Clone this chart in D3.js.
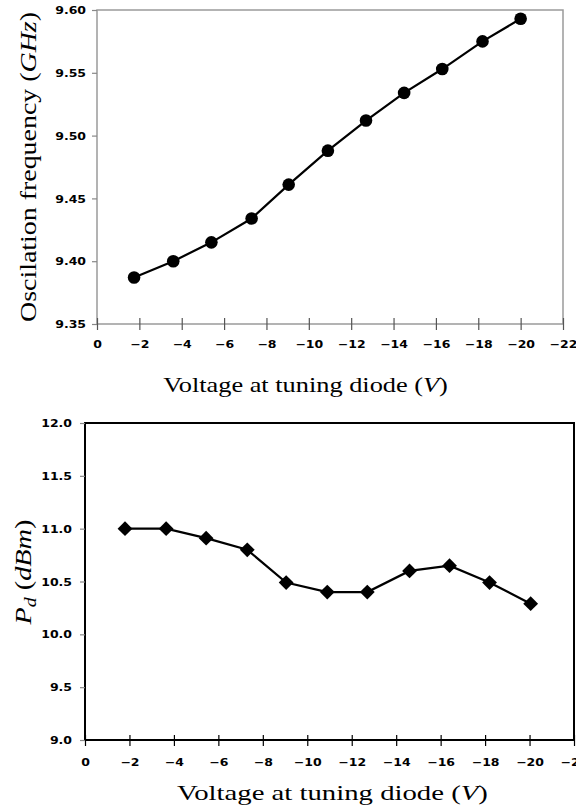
<!DOCTYPE html>
<html>
<head>
<meta charset="utf-8">
<script src="https://cdn.jsdelivr.net/npm/d3@7"></script>
<style>
  html, body { margin: 0; padding: 0; background: #fff; }
  svg { display: block; }
</style>
</head>
<body>
<script>
// ---- Data ----
const voltageTop = [-1.75, -3.6, -5.4, -7.3, -9.05, -10.9, -12.7, -14.5, -16.3, -18.2, -20.0];
const frequencyGHz = [9.387, 9.400, 9.415, 9.434, 9.461, 9.488, 9.512, 9.534, 9.553, 9.575, 9.593];
const voltageBottom = [-1.8, -3.65, -5.45, -7.3, -9.05, -10.9, -12.7, -14.6, -16.4, -18.2, -20.05];
const powerDBm = [11.0, 11.0, 10.91, 10.8, 10.49, 10.4, 10.4, 10.6, 10.65, 10.49, 10.29];
const xTicks = [0, -2, -4, -6, -8, -10, -12, -14, -16, -18, -20, -22];
const yTicksTop = [9.35, 9.40, 9.45, 9.50, 9.55, 9.60];
const yTicksBottom = [9.0, 9.5, 10.0, 10.5, 11.0, 11.5, 12.0];

const W = 576, H = 810;
const svg = d3.select("body").append("svg").attr("width", W).attr("height", H);

const fmtMinus = v => (v < 0 ? "\u2212" + Math.abs(v) : String(v));
const tickFont = "'DejaVu Sans', Verdana, sans-serif";
const serif = "'Liberation Serif', 'Times New Roman', serif";
const SX = 1.25; // horizontal stretch of tick labels

function styleTickText(sel, xOff, yOff, anchor) {
  sel.selectAll("text")
    .attr("font-family", tickFont)
    .attr("font-weight", "bold")
    .attr("font-size", 10)
    .attr("fill", "#000")
    .attr("text-anchor", anchor)
    .attr("x", xOff / SX)
    .attr("y", yOff)
    .attr("dy", anchor === "end" ? "0.36em" : "0.71em")
    .attr("transform", `scale(${SX},1)`);
}

// title text: centred at (cx, cy), rotated by rot, stretched to targetLen
function title(parent, cx, cy, rot, size, targetLen, build) {
  const t = parent.append("text")
    .attr("text-anchor", "middle")
    .attr("font-family", serif)
    .attr("font-weight", "normal")
    .attr("font-size", size)
    .attr("fill", "#000");
  build(t);
  const natural = t.node().getComputedTextLength();
  const k = natural > 0 ? targetLen / natural : 1;
  t.attr("transform", `translate(${cx},${cy}) rotate(${rot}) scale(${k},1)`);
  return t;
}

// ================= TOP CHART =================
(function () {
  const L = 97, R = 563, T = 10, B = 324;
  const x = d3.scaleLinear().domain([0, -22]).range([L, R]);
  const y = d3.scaleLinear().domain([9.35, 9.60]).range([B, T]);
  const g = svg.append("g");

  g.append("rect").attr("x", L).attr("y", T).attr("width", R - L).attr("height", B - T)
    .attr("fill", "none").attr("stroke", "#9a9a9a").attr("stroke-width", 1.5);

  const ya = g.append("g").attr("transform", `translate(${L},0)`)
    .call(d3.axisLeft(y).tickValues(yTicksTop).tickFormat(d3.format(".2f")).tickSize(5));
  ya.select(".domain").remove();
  ya.selectAll("line").attr("stroke", "#888").attr("stroke-width", 1.2);
  styleTickText(ya, -11, 0, "end");

  const xa = g.append("g").attr("transform", `translate(0,${B})`)
    .call(d3.axisBottom(x).tickValues(xTicks).tickFormat(fmtMinus).tickSize(6));
  xa.select(".domain").remove();
  xa.selectAll("line").attr("y1", -6).attr("y2", 6).attr("stroke", "#555").attr("stroke-width", 1.2);
  styleTickText(xa, 0, 16.5, "middle");

  const pts = voltageTop.map((v, i) => [v, frequencyGHz[i]]);
  g.append("path").datum(pts)
    .attr("fill", "none").attr("stroke", "#000").attr("stroke-width", 2.2)
    .attr("d", d3.line().x(d => x(d[0])).y(d => y(d[1])));
  g.selectAll("circle.pt").data(pts).enter().append("circle")
    .attr("cx", d => x(d[0])).attr("cy", d => y(d[1])).attr("r", 6.3).attr("fill", "#000");

  title(g, 36, 167, -90, 23, 310, t => {
    t.append("tspan").text("Oscilation frequency (");
    t.append("tspan").attr("font-style", "italic").text("GHz");
    t.append("tspan").text(")");
  });

  title(g, 305.5, 392, 0, 20, 285, t => {
    t.append("tspan").text("Voltage at tuning diode (");
    t.append("tspan").attr("font-style", "italic").text("V");
    t.append("tspan").text(")");
  });
})();

// ================= BOTTOM CHART =================
(function () {
  const L = 85, R = 574, T = 423, B = 740;
  const x = d3.scaleLinear().domain([0, -22]).range([L, R]);
  const y = d3.scaleLinear().domain([9.0, 12.0]).range([B, T]);
  const g = svg.append("g");

  g.append("rect").attr("x", L).attr("y", T).attr("width", R - L).attr("height", B - T)
    .attr("fill", "none").attr("stroke", "#000").attr("stroke-width", 2);

  const ya = g.append("g").attr("transform", `translate(${L},0)`)
    .call(d3.axisLeft(y).tickValues(yTicksBottom).tickFormat(d3.format(".1f")).tickSize(5));
  ya.select(".domain").remove();
  ya.selectAll("line").attr("stroke", "#888").attr("stroke-width", 1.2);
  styleTickText(ya, -13, 0, "end");

  const xa = g.append("g").attr("transform", `translate(0,${B})`)
    .call(d3.axisBottom(x).tickValues(xTicks).tickFormat(fmtMinus).tickSize(6));
  xa.select(".domain").remove();
  xa.selectAll("line").attr("y1", -5).attr("y2", 6).attr("stroke", "#000").attr("stroke-width", 1.2);
  styleTickText(xa, 0, 18.5, "middle");

  const pts = voltageBottom.map((v, i) => [v, powerDBm[i]]);
  g.append("path").datum(pts)
    .attr("fill", "none").attr("stroke", "#000").attr("stroke-width", 2.2)
    .attr("d", d3.line().x(d => x(d[0])).y(d => y(d[1])));
  g.selectAll("path.pt").data(pts).enter().append("path")
    .attr("transform", d => `translate(${x(d[0])},${y(d[1])})`)
    .attr("d", d3.symbol().type(d3.symbolDiamond2).size(140))
    .attr("fill", "#000");

  title(g, 31, 572, -90, 23, 105, t => {
    t.append("tspan").attr("font-style", "italic").text("P");
    t.append("tspan").attr("font-style", "italic").attr("font-size", 16).attr("dy", 5).text("d");
    t.append("tspan").attr("dy", -5).text(" (");
    t.append("tspan").attr("font-style", "italic").text("dBm");
    t.append("tspan").text(")");
  });

  title(g, 332.5, 800, 0, 21.5, 311, t => {
    t.append("tspan").text("Voltage at tuning diode (");
    t.append("tspan").attr("font-style", "italic").text("V");
    t.append("tspan").text(")");
  });
})();
</script>
</body>
</html>
